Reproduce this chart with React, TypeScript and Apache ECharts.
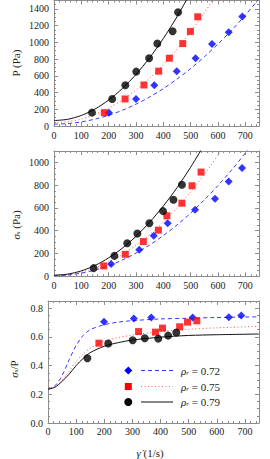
import React, { useEffect, useRef } from "react";
import * as echarts from "echarts";

// ---------- data ----------
// Panel 1: P (Pa) vs shear rate
const p1BlackX = [139, 213, 261, 301, 348, 378, 434, 454];
const p1BlackY = [160, 323, 487, 650, 810, 985, 1133, 1360];
const p1RedX = [184, 260, 329, 383, 422, 471, 499, 526];
const p1RedY = [159, 323, 490, 655, 810, 985, 1130, 1305];
const p1BlueX = [201, 300, 367, 449, 518, 578, 639, 689];
const p1BlueY = [159, 323, 487, 655, 810, 980, 1122, 1308];

const p1BlackCurve = [[0, 65], [50, 80], [100, 126], [150, 203], [200, 310], [250, 448], [300, 617], [350, 816], [400, 1046], [450, 1306], [500, 1597]];
const p1RedCurve = [[0, 40], [50, 51], [100, 83], [150, 138], [200, 214], [250, 311], [300, 431], [350, 572], [400, 734], [450, 919], [500, 1125], [550, 1353], [600, 1602]];
const p1BlueCurve = [[0, 22], [50, 29], [100, 49], [150, 82], [200, 128], [250, 188], [300, 261], [350, 347], [400, 447], [450, 561], [500, 687], [550, 827], [600, 980], [650, 1146], [700, 1326], [750, 1518]];

// Panel 2: sigma_s (Pa)
const p2BlackX = [145, 221, 268, 305, 349, 399, 437, 468];
const p2BlackY = [72, 179, 290, 375, 466, 572, 672, 804];
const p2RedX = [182, 261, 327, 382, 413, 468, 505, 538];
const p2RedY = [91, 193, 305, 405, 531, 642, 795, 915];
const p2BlueX = [209, 312, 365, 416, 516, 589, 639, 688];
const p2BlueY = [108, 232, 355, 466, 584, 680, 833, 950];

const p2BlackCurve = [[0, 10], [50, 19], [100, 48], [150, 95], [200, 162], [250, 247], [300, 351], [350, 475], [400, 617], [450, 778], [500, 958], [550, 1158]];
const p2RedCurve = [[0, 8], [50, 15], [100, 37], [150, 74], [200, 125], [250, 191], [300, 272], [350, 367], [400, 477], [450, 602], [500, 741], [550, 895], [600, 1064], [650, 1247]];
const p2BlueCurve = [[0, 6], [50, 11], [100, 28], [150, 55], [200, 94], [250, 143], [300, 204], [350, 275], [400, 358], [450, 451], [500, 555], [550, 671], [600, 797], [650, 934], [700, 1082], [750, 1242]];

// Panel 3: sigma_s / P
const p3BlackX = [140, 214, 301, 344, 392, 427, 456];
const p3BlackY = [0.451, 0.554, 0.577, 0.591, 0.588, 0.609, 0.63];
const p3RedX = [181, 322, 382, 407, 468, 496, 529];
const p3RedY = [0.556, 0.637, 0.633, 0.661, 0.67, 0.703, 0.712];
const p3BlueX = [199, 305, 367, 514, 643, 687];
const p3BlueY = [0.705, 0.728, 0.735, 0.735, 0.737, 0.749];

const p3BlackCurve = [[0, 0.235], [25, 0.25], [50, 0.29], [75, 0.34], [100, 0.4], [125, 0.45], [150, 0.49], [200, 0.535], [250, 0.56], [300, 0.578], [400, 0.598], [500, 0.61], [600, 0.615], [750, 0.62]];
const p3RedCurve = [[0, 0.235], [25, 0.25], [50, 0.3], [75, 0.36], [100, 0.43], [125, 0.48], [150, 0.52], [200, 0.57], [250, 0.595], [300, 0.613], [400, 0.637], [500, 0.653], [600, 0.663], [750, 0.673]];
const p3BlueCurve = [[0, 0.235], [25, 0.26], [50, 0.33], [75, 0.44], [100, 0.54], [125, 0.61], [150, 0.65], [200, 0.685], [250, 0.703], [300, 0.713], [400, 0.725], [500, 0.73], [600, 0.735], [750, 0.74]];

const legendLabels = ["0.72", "0.75", "0.79"];

// ---------- styles ----------
const FONT = "Liberation Serif";
const FRAME = "#8c8c8c";
const BLUE = "#0000ff";
const RED = "#ff0000";
const BLACK = "#000000";

const zip = (xs: number[], ys: number[]) => xs.map((x, i) => [x, ys[i]]);

function xAxes(gridIndex: number, labelMargin: number) {
  const base = {
    type: "value",
    gridIndex,
    min: 0,
    max: 750,
    interval: 100,
    axisLine: { show: true, onZero: false, lineStyle: { color: FRAME, width: 1 } },
    axisTick: { show: true, inside: true, length: 4, lineStyle: { color: FRAME } },
    minorTick: { show: true, splitNumber: 5, length: 2, lineStyle: { color: FRAME } },
    splitLine: { show: false },
  };
  return [
    {
      ...base,
      position: "bottom",
      axisLabel: { show: true, showMaxLabel: false, fontFamily: FONT, fontSize: 10, color: "#222", margin: labelMargin, formatter: (v: number) => String(v) },
    },
    { ...base, position: "top", axisLabel: { show: false } },
  ];
}

function yAxes(gridIndex: number, max: number, interval: number, fmt: (v: number) => string) {
  const base = {
    type: "value",
    gridIndex,
    min: 0,
    max,
    interval,
    axisLine: { show: true, onZero: false, lineStyle: { color: FRAME, width: 1 } },
    axisTick: { show: true, inside: true, length: 4, lineStyle: { color: FRAME } },
    minorTick: { show: true, splitNumber: 4, length: 2, lineStyle: { color: FRAME } },
    splitLine: { show: false },
  };
  return [
    {
      ...base,
      position: "left",
      axisLabel: { show: true, showMaxLabel: false, fontFamily: FONT, fontSize: 10, color: "#222", margin: 5, formatter: fmt },
    },
    { ...base, position: "right", axisLabel: { show: false } },
  ];
}

function panelSeries(
  xi: number,
  yi: number,
  blue: number[][],
  red: number[][],
  black: number[][],
  blueC: number[][],
  redC: number[][],
  blackC: number[][]
) {
  const lineBase = { type: "line", xAxisIndex: xi, yAxisIndex: yi, smooth: 0.3, showSymbol: false, symbol: "none", clip: true, z: 2 };
  const scBase = { type: "scatter", xAxisIndex: xi, yAxisIndex: yi, clip: true, z: 3 };
  return [
    { ...lineBase, data: blueC, lineStyle: { color: "#3a3aff", width: 1, type: [4, 3] } },
    { ...lineBase, data: redC, lineStyle: { color: "#ff5050", width: 1, type: [1, 2.5] } },
    { ...lineBase, data: blackC, lineStyle: { color: "#111", width: 1, type: "solid" } },
    { ...scBase, data: blue, symbol: "diamond", symbolSize: 8, itemStyle: { color: BLUE } },
    { ...scBase, data: red, symbol: "rect", symbolSize: 7, itemStyle: { color: RED } },
    { ...scBase, data: black, symbol: "circle", symbolSize: 8, itemStyle: { color: BLACK } },
  ];
}

const richBase = {
  i: { fontFamily: FONT, fontStyle: "italic", fontSize: 11, fill: "#222" },
  sub: { fontFamily: FONT, fontStyle: "italic", fontSize: 7, fill: "#222", verticalAlign: "bottom", padding: [4, 0, 0, 0] },
  n: { fontFamily: FONT, fontSize: 11, fill: "#222" },
};

export default function App() {
  const ref = useRef<HTMLDivElement>(null);
  useEffect(() => {
    if (!ref.current) return;
    const chart = echarts.init(ref.current, undefined, { renderer: "svg" });

    const legendRows = [370.5, 386.5, 402];
    const legendGraphics: any[] = [];
    legendGraphics.push({
      type: "polygon",
      shape: { points: [[128.3, legendRows[0] - 4], [132.3, legendRows[0]], [128.3, legendRows[0] + 4], [124.3, legendRows[0]]] },
      style: { fill: BLUE },
    });
    legendGraphics.push({ type: "rect", shape: { x: 124.8, y: legendRows[1] - 3.5, width: 7, height: 7 }, style: { fill: RED } });
    legendGraphics.push({ type: "circle", shape: { cx: 128.3, cy: legendRows[2], r: 4 }, style: { fill: BLACK } });
    legendGraphics.push({ type: "line", shape: { x1: 141, y1: legendRows[0], x2: 173, y2: legendRows[0] }, style: { stroke: "#3a3aff", lineWidth: 1, lineDash: [4, 3] } });
    legendGraphics.push({ type: "line", shape: { x1: 141, y1: legendRows[1], x2: 173, y2: legendRows[1] }, style: { stroke: "#ff6060", lineWidth: 1, lineDash: [1, 2.5] } });
    legendGraphics.push({ type: "line", shape: { x1: 141, y1: legendRows[2], x2: 173, y2: legendRows[2] }, style: { stroke: "#111", lineWidth: 1 } });
    legendLabels.forEach((lab, k) => {
      legendGraphics.push({
        type: "text",
        x: 181,
        y: legendRows[k],
        style: {
          text: `{i|ρ}{sub|r}{n| = ${lab}}`,
          rich: richBase,
          verticalAlign: "middle",
          align: "left",
        },
      });
    });

    const axisTitles: any[] = [
      {
        type: "text",
        x: 16,
        y: 63,
        rotation: Math.PI / 2,
        style: { text: "{n|P (Pa)}", rich: richBase, align: "center", verticalAlign: "middle" },
      },
      {
        type: "text",
        x: 16,
        y: 225,
        rotation: Math.PI / 2,
        style: { text: "{i|σ}{sub|s}{n| (Pa)}", rich: richBase, align: "center", verticalAlign: "middle" },
      },
      {
        type: "text",
        x: 14,
        y: 369,
        rotation: Math.PI / 2,
        style: { text: "{i|σ}{sub|s}{n|/P}", rich: richBase, align: "center", verticalAlign: "middle" },
      },
      {
        type: "text",
        x: 150,
        y: 453,
        style: { text: "{i|γ̇}{n| (1/s)}", rich: richBase, align: "center", verticalAlign: "middle" },
      },
    ];

    const option: any = {
      animation: false,
      backgroundColor: "#ffffff",
      grid: [
        { left: 54, right: 11, top: 0.5, height: 125.5 },
        { left: 54, right: 11, top: 151, height: 125.3 },
        { left: 48, right: 11, top: 301, height: 122 },
      ],
      xAxis: [...xAxes(0, 4), ...xAxes(1, 4), ...xAxes(2, 3)],
      yAxis: [
        ...yAxes(0, 1500, 200, (v: number) => String(v)),
        ...yAxes(1, 1100, 200, (v: number) => String(v)),
        ...yAxes(2, 0.85, 0.2, (v: number) => v.toFixed(1)),
      ],
      series: [
        ...panelSeries(0, 0, zip(p1BlueX, p1BlueY), zip(p1RedX, p1RedY), zip(p1BlackX, p1BlackY), p1BlueCurve, p1RedCurve, p1BlackCurve),
        ...panelSeries(2, 2, zip(p2BlueX, p2BlueY), zip(p2RedX, p2RedY), zip(p2BlackX, p2BlackY), p2BlueCurve, p2RedCurve, p2BlackCurve),
        ...panelSeries(4, 4, zip(p3BlueX, p3BlueY), zip(p3RedX, p3RedY), zip(p3BlackX, p3BlackY), p3BlueCurve, p3RedCurve, p3BlackCurve),
      ],
      graphic: [...axisTitles, ...legendGraphics],
    };
    chart.setOption(option);
    return () => chart.dispose();
  }, []);
  return <div ref={ref} style={{ width: 270, height: 459, position: "absolute", left: 0, top: 0 }} />;
}
